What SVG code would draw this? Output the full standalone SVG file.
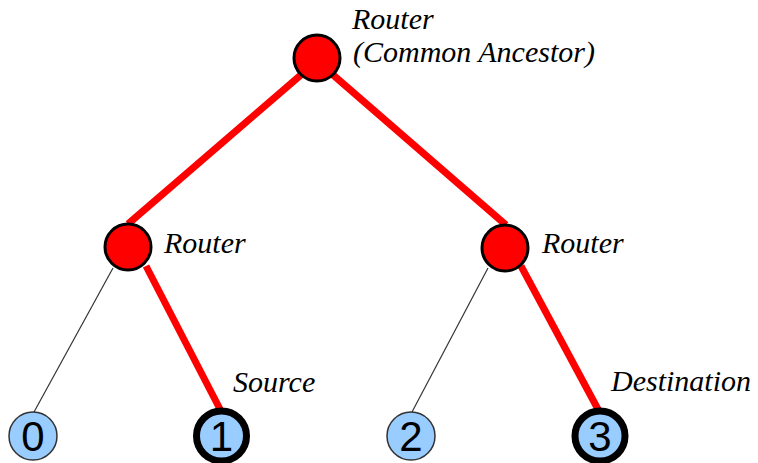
<svg xmlns="http://www.w3.org/2000/svg" width="758" height="463" viewBox="0 0 758 463">
<style>
.router{fill:#ff0000;stroke:#000;stroke-width:3}
.leaf{fill:#99ccff;stroke:#333;stroke-width:1.5}
.leaf.end{stroke:#000;stroke-width:7}
.path{stroke:#ff0000;stroke-width:7;stroke-linecap:butt;fill:none}
.thin{stroke:#333;stroke-width:1.2;fill:none}
.lbl{font-family:"Liberation Serif","Times New Roman",serif;font-style:italic;font-size:30px;fill:#000}
.num{font-family:"Liberation Sans",Arial,sans-serif;font-size:42px;fill:#000;text-anchor:middle}
</style>
<rect width="758" height="463" fill="#fff"/>
<g id="connectors">
<line class="path" x1="302" y1="74" x2="128" y2="224"/>
<line class="path" x1="332" y1="74" x2="506" y2="225"/>
<line class="thin" x1="113" y1="268" x2="34" y2="412"/>
<line class="path" x1="146" y1="266" x2="222" y2="413"/>
<line class="thin" x1="488" y1="268" x2="412" y2="412"/>
<line class="path" x1="521" y1="266" x2="600" y2="413"/>
</g>
<g id="router-top">
<circle class="router" cx="317" cy="58" r="23"/>
<text class="lbl" x="352" y="29">Router</text>
<text class="lbl" x="353" y="62">(Common Ancestor)</text>
</g>
<g id="router-left">
<circle class="router" cx="128" cy="247" r="23"/>
<text class="lbl" x="164" y="253">Router</text>
</g>
<g id="router-right">
<circle class="router" cx="505" cy="248" r="23"/>
<text class="lbl" x="542" y="253">Router</text>
</g>
<g id="leaf-0">
<circle class="leaf" cx="33" cy="436" r="24"/>
<text class="num" x="33" y="451">0</text>
</g>
<g id="leaf-1">
<circle class="leaf end" cx="221.5" cy="436" r="25"/>
<text class="num" x="221.5" y="451">1</text>
<text class="lbl" x="233" y="392">Source</text>
</g>
<g id="leaf-2">
<circle class="leaf" cx="411" cy="436" r="24"/>
<text class="num" x="411" y="451">2</text>
</g>
<g id="leaf-3">
<circle class="leaf end" cx="600" cy="436" r="25"/>
<text class="num" x="600" y="451">3</text>
<text class="lbl" x="611" y="391">Destination</text>
</g>
</svg>
